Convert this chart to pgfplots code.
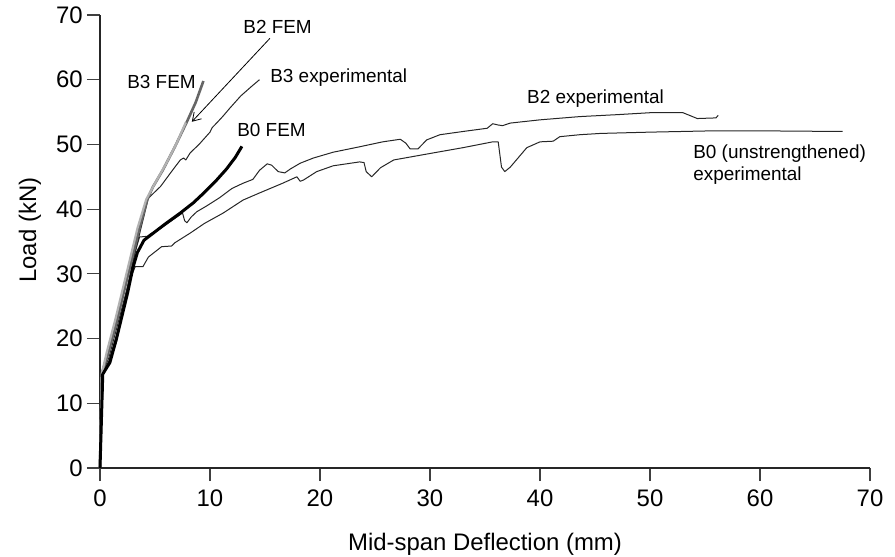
\documentclass[border=0pt]{standalone}
\usepackage{fontspec}
\setmainfont{Liberation Sans}
\usepackage{pgfplots}
\pgfplotsset{compat=1.18}
\usetikzlibrary{arrows.meta}

\begin{document}
\begin{tikzpicture}[x=1bp,y=1bp]
\path[use as bounding box] (-50,-44) rectangle (397.5,234);
\begin{axis}[
  at={(0,0)}, anchor=south west,
  width=385bp, height=226.5bp, scale only axis,
  xmin=0, xmax=70, ymin=0, ymax=70,
  xtick={0,10,...,70}, ytick={0,10,...,70},
  axis lines=left, axis line style={-, black!85, line width=0.6bp},
  tick align=outside, major tick length=6.5bp,
  tick style={black!75, line width=0.6bp},
  /pgf/number format/assume math mode=true,
  tick label style={font=\fontsize{12}{14}\selectfont},
  yticklabel style={inner sep=2bp},
  xticklabel style={yshift=-1bp},
  xlabel={Mid-span Deflection (mm)}, ylabel={Load (kN)},
  label style={font=\fontsize{12}{14}\selectfont},
  xlabel style={at={(axis description cs:0.5,-0.181)}, anchor=base},
  ylabel style={at={(axis description cs:-0.0831,0.525)}, anchor=base},
  clip=false,
  every axis plot/.append style={line join=round},
]
% B0 experimental
\addplot[black!85, line width=0.5bp] coordinates {
(0,0) (0.3,14.5) (0.8,16) (1.5,19.5) (2.2,25) (2.8,29.5) (3.2,31.1) (3.9,31.1)
(4.4,32.6) (5.6,34.2) (6.5,34.3) (6.8,34.8) (8.2,36.3) (9.5,37.8) (11.2,39.4)
(13,41.4) (14.5,42.5) (16.6,44) (17.9,45) (18.2,44.3) (18.5,44.5) (19.7,45.8)
(21.2,46.7) (23.6,47.3) (24,47.2) (24.2,45.8) (24.7,45) (25.5,46.4) (26.7,47.6)
(30,48.6) (33,49.5) (35.7,50.4) (36.2,50.4) (36.5,46.5) (36.8,45.8) (37.3,46.5)
(38.8,49.5) (40,50.4) (41.2,50.5) (41.8,51.2) (43.6,51.5) (45.5,51.7) (50,51.9)
(55.7,52.1) (60,52.1) (67.5,52)};
% B2 experimental
\addplot[black!85, line width=0.5bp] coordinates {
(0,0) (0.3,15) (0.8,16.5) (1.5,20.5) (2.5,28) (3.2,33.5) (3.6,35.7) (4.3,35.8)
(4.6,36.2) (5.5,37) (6.5,38.2) (7.5,39.4) (7.7,38.2) (7.9,37.9) (8.3,38.8)
(8.8,39.6) (9.7,40.5) (10.9,41.8) (12,43.2) (13,44) (13.9,44.6) (14.5,46)
(15.2,47) (15.6,46.8) (16.2,45.8) (16.8,45.6) (17.3,46.2) (18.2,47.1) (19.4,47.9)
(21.2,48.8) (23.5,49.6) (25.7,50.4) (27.3,50.8) (27.8,50.2) (28.2,49.3) (28.9,49.3)
(29.7,50.7) (30.9,51.5) (33,52) (35.2,52.5) (35.7,53.2) (36.2,53) (36.6,52.9)
(37.3,53.3) (40,53.8) (43.6,54.3) (47,54.6) (50,54.9) (53,54.9) (54.3,54)
(56,54.1) (56.2,54.5)};
% B3 experimental
\addplot[black!85, line width=0.5bp] coordinates {
(0,0) (0.3,15) (0.8,17) (1.5,21.5) (2.5,28) (3.5,35.5) (4.4,41.7) (5.5,43.5)
(6.5,45.8) (7.3,47.6) (7.6,47.9) (7.8,47.6) (8.2,48.7) (9,50) (10,51.9)
(10.2,52.6) (10.6,53.3) (11.2,54.4) (11.8,55.6) (12.8,57.5) (13.8,59) (14.5,60)};
% B3 FEM
\addplot[black!60, line width=1.3bp] coordinates {
(0,0) (0.2,14.8) (0.7,17.5) (1.5,22.5) (2.5,29.5) (3.5,36.5) (4.3,41.5)
(4.8,43.4) (5.7,46) (6.8,49.6) (7.9,53.5) (8.7,56.5) (9.4,59.8)};
% B2 FEM
\addplot[black!30, line width=1.1bp] coordinates {
(0,0) (0.15,14.5) (0.6,17.8) (1.4,23) (2.4,30) (3.4,37) (4.2,41.5)
(5,44) (6,47) (7,50.3) (7.8,53.4)};
% B0 FEM
\addplot[black, line width=1.5bp] coordinates {
(0,0) (0.25,14.5) (0.5,15.2) (0.9,16.3) (1.5,20) (2.0,23.5) (2.5,27) (3.0,31)
(3.4,33.3) (4.0,35.2) (5,36.5) (6,37.8) (7.3,39.4) (8.5,41) (9.5,42.6)
(10.5,44.3) (11.5,46.2) (12.3,48) (12.9,49.7)};

\draw[-{Straight Barb[length=4bp,width=5bp]}, line width=0.4bp]
  (axis cs:15.45,66.4) -- (axis cs:8.35,53.5);
\begin{scope}[every node/.style={font=\fontsize{9.5}{11}\selectfont, inner sep=0pt, anchor=base west}]
\node at (axis cs:13.0,67.2) {B2 FEM};
\node at (axis cs:2.45,58.7) {B3 FEM};
\node at (axis cs:15.45,59.5) {B3 experimental};
\node at (axis cs:12.45,51.2) {B0 FEM};
\node at (axis cs:38.8,56.3) {B2 experimental};
\node at (axis cs:53.9,47.9) {B0 (unstrengthened)};
\node at (axis cs:53.9,44.5) {experimental};
\end{scope}
\end{axis}
\end{tikzpicture}
\end{document}
